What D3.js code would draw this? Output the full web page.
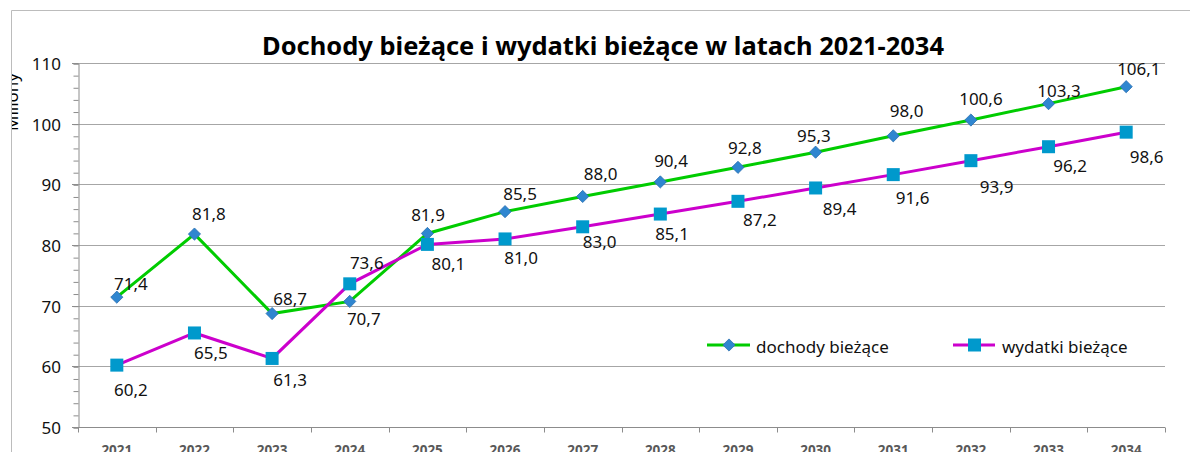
<!DOCTYPE html>
<html>
<head>
<meta charset="utf-8">
<script src="https://cdn.jsdelivr.net/npm/d3@7"></script>
<style>
    body { margin: 0; background: #fff; }
    text { font-family: "Noto Sans", sans-serif; }
</style>
</head>
<body>
<svg id="chart" width="1190" height="452"></svg>
<script>
// Chart data
var years = ["2021", "2022", "2023", "2024", "2025", "2026", "2027", "2028", "2029", "2030", "2031", "2032", "2033", "2034"]
var dochody = [71.4, 81.8, 68.7, 70.7, 81.9, 85.5, 88.0, 90.4, 92.8, 95.3, 98.0, 100.6, 103.3, 106.1]
var wydatki = [60.2, 65.5, 61.3, 73.6, 80.1, 81.0, 83.0, 85.1, 87.2, 89.4, 91.6, 93.9, 96.2, 98.6]
var yTicks = [50, 60, 70, 80, 90, 100, 110]
var seriesNames = ["dochody bieżące", "wydatki bieżące"]

// label nudges (px, from point centre to label baseline centre), placed by hand in the original
var shiftDochody = [[14, -7], [14.5, -14], [18, -8.6], [14, 23.6], [0.6, -12], [15, -11.6], [18, -16.5],
    [10.7, -15], [7, -13], [-1.7, -10], [13.4, -18.5], [10, -15], [10.4, -7], [12.7, -11.7]]
var shiftWydatki = [[14, 31], [16.5, 26], [18, 28], [17, -14.5], [21, 25.6], [16, 25], [17, 21.5],
    [11.7, 26], [22, 24.7], [24, 27], [19.4, 29.4], [25.7, 32], [21.7, 25], [20.4, 31]]

var svg = d3.select("#chart")

var plot = { left: 78, right: 1165, top: 63, bottom: 427 }

var x = d3.scaleBand().domain(years).range([plot.left, plot.right])
var y = d3.scaleLinear().domain([50, 110]).range([plot.bottom, plot.top])

var fmt = function(v) { return d3.format(".1f")(v).replace(".", ",") }

// outer chart frame (runs off the right and bottom edge)
svg.append("path")
    .attr("d", "M11.5,460 V10.5 H1200")
    .attr("fill", "none")
    .attr("stroke", "#bcbcbc")

// Title
svg.append("text")
    .attr("x", 603)
    .attr("y", 55)
    .attr("text-anchor", "middle")
    .attr("font-size", 25)
    .attr("font-weight", "bold")
    .attr("textLength", 682)
    .attr("lengthAdjust", "spacingAndGlyphs")
    .text("Dochody bieżące i wydatki bieżące w latach 2021-2034")

// y axis title, cut by the frame like in the original
svg.append("clipPath").attr("id", "frameClip")
    .append("rect").attr("x", 12).attr("y", 0).attr("width", 1190).attr("height", 452)

svg.append("g")
    .attr("clip-path", "url(#frameClip)")
    .append("text")
    .attr("transform", "translate(18,102) rotate(-90)")
    .attr("text-anchor", "middle")
    .attr("font-size", 17)
    .text("Miliony")

// gridlines
svg.append("g")
    .selectAll("line")
    .data(yTicks.filter(function(d) { return d > 50 }))
    .join("line")
    .attr("x1", plot.left).attr("x2", plot.right)
    .attr("y1", function(d) { return Math.round(y(d)) + 0.5 })
    .attr("y2", function(d) { return Math.round(y(d)) + 0.5 })
    .attr("stroke", "#a6a6a6")

// y axis with minor ticks
var yAxisMinor = d3.axisLeft(y).tickValues(d3.range(50, 111, 2)).tickSize(5).tickFormat("")
var yAxisG = svg.append("g").attr("transform", "translate(" + (plot.left + 0.5) + ",0.5)")
yAxisG.call(yAxisMinor)
yAxisG.selectAll("line").attr("stroke", "#8c8c8c")
yAxisG.select(".domain").attr("stroke", "#8c8c8c")

var yLabels = svg.append("g")
yLabels.selectAll("line")
    .data(yTicks)
    .join("line")
    .attr("x1", plot.left - 6).attr("x2", plot.left)
    .attr("y1", function(d) { return Math.round(y(d)) + 0.5 })
    .attr("y2", function(d) { return Math.round(y(d)) + 0.5 })
    .attr("stroke", "#8c8c8c")
yLabels.selectAll("text")
    .data(yTicks)
    .join("text")
    .attr("x", 61)
    .attr("y", function(d) { return y(d) + 7 })
    .attr("text-anchor", "end")
    .attr("font-size", 17)
    .attr("fill", "#111")
    .text(function(d) { return d })

// x axis, ticks between categories
var xAxisG = svg.append("g").attr("transform", "translate(0," + (plot.bottom + 0.5) + ")")
xAxisG.append("line")
    .attr("x1", plot.left).attr("x2", plot.right)
    .attr("stroke", "#8c8c8c")
xAxisG.selectAll(".tk")
    .data(years.concat(["end"]))
    .join("line")
    .attr("class", "tk")
    .attr("x1", function(d, i) { return Math.round(plot.left + i * x.bandwidth()) + 0.5 })
    .attr("x2", function(d, i) { return Math.round(plot.left + i * x.bandwidth()) + 0.5 })
    .attr("y1", 0).attr("y2", 5)
    .attr("stroke", "#8c8c8c")
xAxisG.selectAll("text")
    .data(years)
    .join("text")
    .attr("x", function(d) { return x(d) + x.bandwidth() / 2 })
    .attr("y", 27)
    .attr("text-anchor", "middle")
    .attr("font-size", 13.5)
    .attr("font-weight", "bold")
    .attr("fill", "#595959")
    .text(function(d) { return d })

// lines
var cx = function(d, i) { return x(years[i]) + x.bandwidth() / 2 }
var line = d3.line().x(cx).y(function(d) { return y(d) })

svg.append("path").datum(dochody)
    .attr("d", line).attr("fill", "none")
    .attr("stroke", "#00cc00").attr("stroke-width", 3)

svg.append("path").datum(wydatki)
    .attr("d", line).attr("fill", "none")
    .attr("stroke", "#cc00cc").attr("stroke-width", 3)

// markers
var diamond = d3.symbol().type(d3.symbolDiamond2).size(95)
svg.append("g").selectAll("path")
    .data(dochody)
    .join("path")
    .attr("d", diamond)
    .attr("transform", function(d, i) { return "translate(" + cx(d, i) + "," + y(d) + ")" })
    .attr("fill", "#2f86d0")
    .attr("stroke", "#2a6fb0")
    .attr("stroke-width", 0.8)

svg.append("g").selectAll("rect")
    .data(wydatki)
    .join("rect")
    .attr("x", function(d, i) { return cx(d, i) - 6.5 })
    .attr("y", function(d) { return y(d) - 6.5 })
    .attr("width", 13).attr("height", 13)
    .attr("fill", "#0099cc")

// data labels
svg.append("g").selectAll("text")
    .data(dochody)
    .join("text")
    .attr("x", function(d, i) { return cx(d, i) + shiftDochody[i][0] })
    .attr("y", function(d, i) { return y(d) + shiftDochody[i][1] })
    .attr("text-anchor", "middle")
    .attr("font-size", 17)
    .attr("fill", "#111")
    .text(fmt)

svg.append("g").selectAll("text")
    .data(wydatki)
    .join("text")
    .attr("x", function(d, i) { return cx(d, i) + shiftWydatki[i][0] })
    .attr("y", function(d, i) { return y(d) + shiftWydatki[i][1] })
    .attr("text-anchor", "middle")
    .attr("font-size", 17)
    .attr("fill", "#111")
    .text(fmt)

// legend
var legend = svg.append("g")
var lg1 = legend.append("g").attr("transform", "translate(707,345)")
lg1.append("line").attr("x1", 0).attr("x2", 43).attr("stroke", "#00cc00").attr("stroke-width", 3)
lg1.append("path").attr("d", diamond).attr("transform", "translate(22,0)")
    .attr("fill", "#2f86d0").attr("stroke", "#2a6fb0").attr("stroke-width", 0.8)
lg1.append("text").attr("x", 49).attr("y", 8).attr("font-size", 17).attr("fill", "#111").text(seriesNames[0])

var lg2 = legend.append("g").attr("transform", "translate(953,345)")
lg2.append("line").attr("x1", 0).attr("x2", 42).attr("stroke", "#cc00cc").attr("stroke-width", 3)
lg2.append("rect").attr("x", 15).attr("y", -6.5).attr("width", 13).attr("height", 13).attr("fill", "#0099cc")
lg2.append("text").attr("x", 49).attr("y", 8).attr("font-size", 17).attr("fill", "#111").text(seriesNames[1])
</script>
</body>
</html>
